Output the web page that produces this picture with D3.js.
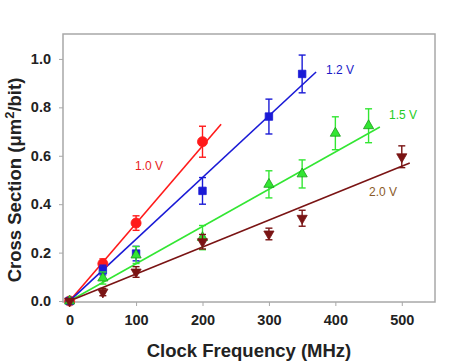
<!DOCTYPE html>
<html>
<head>
<meta charset="utf-8">
<script src="https://cdn.jsdelivr.net/npm/d3@7"></script>
<style>
  body { margin: 0; background: #fff; }
  svg { font-family: "Liberation Sans", Arial, sans-serif; }
</style>
</head>
<body>
<svg width="452" height="362"></svg>
<script>
// clock frequencies (MHz) measured for each supply voltage
const freqs = [0, 50, 100, 200, 300, 350, 400, 450, 500];

const voltages = ["1.0 V", "1.2 V", "1.5 V", "2.0 V"];

// cross sections (um^2/bit), null = not measured
const sec10 = [0, 0.154, 0.322, 0.658, null, null, null, null, null];
const sec12 = [0, 0.128, 0.196, 0.455, 0.762, 0.938, null, null, null];
const sec15 = [0, 0.095, 0.19, 0.262, 0.482, 0.525, 0.693, 0.724, null];
const sec20 = [0, 0.037, 0.12, 0.245, 0.277, 0.342, null, null, 0.596];

// error bar half heights
const err10 = [0, 0.02, 0.03, 0.064, null, null, null, null, null];
const err12 = [0, 0.02, 0.03, 0.055, 0.072, 0.078, null, null, null];
const err15 = [0, 0.025, 0.035, 0.05, 0.056, 0.058, 0.068, 0.07, null];
const err20 = [0, 0.015, 0.022, 0.03, 0.024, 0.033, null, null, 0.045];

// linear fit end points [x0, y0, x1, y1]
const fit10 = [-4, -0.012, 228, 0.73];
const fit12 = [-4, -0.01, 371, 0.946];
const fit15 = [-4, -0.006, 467, 0.719];
const fit20 = [-4, -0.004, 512, 0.57];

const secs = [sec10, sec12, sec15, sec20];
const errs = [err10, err12, err15, err20];
const fits = [fit10, fit12, fit15, fit20];

const colors = ["#ff1a1a", "#1a1ad6", "#33e633", "#7a1414"];
const labelColors = ["#e81c1c", "#1a1ac8", "#22cc22", "#8a5a28"];
const markers = ["circle", "square", "triangle", "triangleDown"];
const labelPos = [[135, 166], [326, 70], [389, 115], [369, 192]];

const xTicks = [0, 100, 200, 300, 400, 500];
const yTicks = [0, 0.2, 0.4, 0.6, 0.8, 1.0];

const svg = d3.select("svg");

const x = d3.scaleLinear().domain([-10, 550]).range([63, 435]);
const y = d3.scaleLinear().domain([-0.004, 1.103]).range([302, 34]);

// frame
svg.append("rect")
  .attr("x", x(-10))
  .attr("y", y(1.103))
  .attr("width", x(550) - x(-10))
  .attr("height", y(-0.004) - y(1.103))
  .attr("fill", "none")
  .attr("stroke", "#a8a8a8")
  .attr("stroke-width", 1.5);

// axes
const xAxis = svg.append("g")
  .attr("transform", `translate(0, ${y(-0.004)})`)
  .call(d3.axisBottom(x).tickValues(xTicks).tickSize(4).tickPadding(9).tickFormat(d3.format("d")));

const yAxis = svg.append("g")
  .attr("transform", `translate(${x(-10)}, 0)`)
  .call(d3.axisLeft(y).tickValues(yTicks).tickSize(4).tickPadding(8).tickFormat(d3.format(".1f")));

[xAxis, yAxis].forEach((a) => {
  a.select(".domain").remove();
  a.selectAll("line").attr("stroke", "#a8a8a8");
  a.selectAll("text")
    .attr("fill", "#222")
    .style("font-size", "14.5px")
    .style("font-weight", "bold");
});

// axis titles
svg.append("text")
  .attr("x", 249)
  .attr("y", 357)
  .attr("text-anchor", "middle")
  .attr("fill", "#222")
  .style("font-size", "18.5px")
  .style("font-weight", "bold")
  .text("Clock Frequency (MHz)");

const yTitle = svg.append("text")
  .attr("transform", "translate(21, 180) rotate(-90)")
  .attr("text-anchor", "middle")
  .attr("fill", "#222")
  .style("font-size", "18.5px")
  .style("font-weight", "bold");
yTitle.append("tspan").text("Cross Section (\u03bcm");
yTitle.append("tspan").attr("dy", -7).style("font-size", "13px").text("2");
yTitle.append("tspan").attr("dy", 7).text("/bit)");

// fit lines
fits.forEach((f, i) => {
  svg.append("line")
    .attr("x1", x(f[0]))
    .attr("y1", y(f[1]))
    .attr("x2", x(f[2]))
    .attr("y2", y(f[3]))
    .attr("stroke", colors[i])
    .attr("stroke-width", 1.6);
});

const symbols = {
  circle: d3.symbol().type(d3.symbolCircle).size(80),
  square: d3.symbol().type(d3.symbolSquare).size(56),
  triangle: d3.symbol().type(d3.symbolTriangle).size(45),
  triangleDown: d3.symbol().type(d3.symbolTriangle).size(45)
};

// error bars and markers
secs.forEach((s, i) => {
  const pts = freqs
    .map((f, j) => ({ f, v: s[j], e: errs[i][j] }))
    .filter((d) => d.v !== null);

  const g = svg.append("g");

  const eb = g.selectAll(".eb")
    .data(pts.filter((d) => d.e > 0))
    .enter()
    .append("g")
    .attr("stroke", colors[i])
    .attr("stroke-width", 1.4);

  eb.append("line")
    .attr("x1", (d) => x(d.f))
    .attr("x2", (d) => x(d.f))
    .attr("y1", (d) => y(d.v - d.e))
    .attr("y2", (d) => y(d.v + d.e));
  eb.append("line")
    .attr("x1", (d) => x(d.f) - 3.5)
    .attr("x2", (d) => x(d.f) + 3.5)
    .attr("y1", (d) => y(d.v + d.e))
    .attr("y2", (d) => y(d.v + d.e));
  eb.append("line")
    .attr("x1", (d) => x(d.f) - 3.5)
    .attr("x2", (d) => x(d.f) + 3.5)
    .attr("y1", (d) => y(d.v - d.e))
    .attr("y2", (d) => y(d.v - d.e));

  g.selectAll(".mk")
    .data(pts)
    .enter()
    .append("path")
    .attr("d", symbols[markers[i]])
    .attr("transform", (d) =>
      `translate(${x(d.f)}, ${y(d.v)})` + (markers[i] === "triangleDown" ? " rotate(180)" : ""))
    .attr("fill", colors[i])
    .attr("stroke", colors[i] === "#33e633" ? "#1a9a1a" : colors[i])
    .attr("stroke-width", 0.8);
});

// series labels
voltages.forEach((v, i) => {
  svg.append("text")
    .attr("x", labelPos[i][0])
    .attr("y", labelPos[i][1] + 4)
    .attr("fill", labelColors[i])
    .style("font-size", "12px")
    .text(v);
});
</script>
</body>
</html>
